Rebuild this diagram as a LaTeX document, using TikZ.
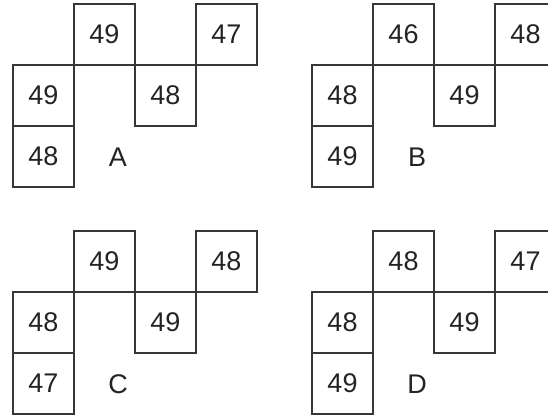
\documentclass[tikz,border=0pt]{standalone}
\usepackage{fontspec}
\setmainfont{Liberation Sans}
\usepackage{tikz}
\usetikzlibrary{positioning}
\definecolor{boxline}{RGB}{55,55,55}
\definecolor{numcol}{RGB}{35,35,35}

\begin{document}
\begin{tikzpicture}[x=1pt, y=-1pt,
    every node/.style={font=\fontsize{27}{27}\selectfont, text=numcol},
    cell/.style={draw=boxline, line width=1.5pt, minimum size=61pt, inner sep=0pt}]
  \useasboundingbox (0,0) rectangle (548,415);
  \clip (0,0) rectangle (548,415);
  % one panel per letter: top boxes, middle boxes, bottom box
  \foreach \p/\ox/\oy/\ta/\tb/\ml/\mr/\bl in
      {A/13/4/49/47/49/48/48, B/312/4/46/48/48/49/49,
       C/13/231/49/48/48/49/47, D/312/231/48/47/48/49/49} {
    \node[cell] (\p-t1) at (\ox+91.5,\oy+30.5) {\ta};
    \node[cell] (\p-t2) at (\ox+213.5,\oy+30.5) {\tb};
    \node[cell] (\p-m1) at (\ox+30.5,\oy+91.5) {\ml};
    \node[cell] (\p-m2) at (\ox+152.5,\oy+91.5) {\mr};
    \node[cell] (\p-b1) at (\ox+30.5,\oy+152.5) {\bl};
    \node (\p-lab) at (\ox+105,\oy+153) {\p};
  }
\end{tikzpicture}
\end{document}
